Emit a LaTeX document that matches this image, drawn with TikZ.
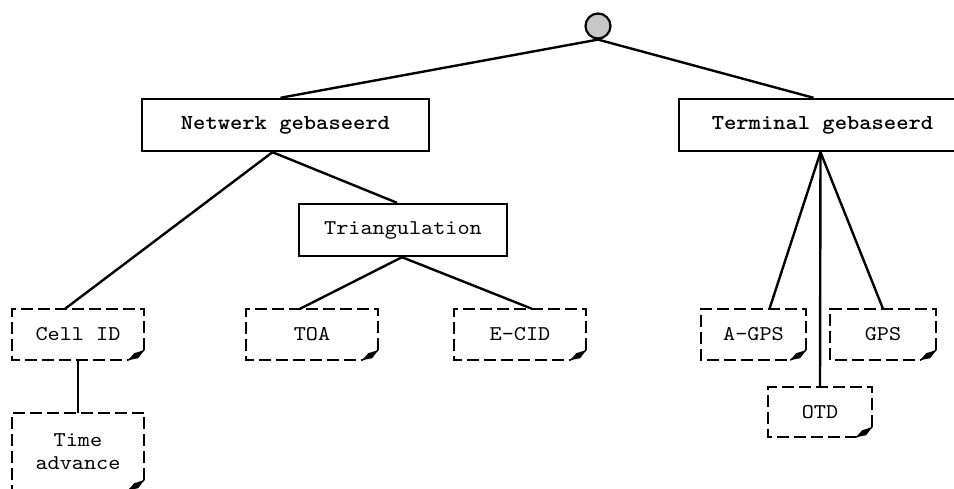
\documentclass[tikz,border=0pt]{standalone}
\usepackage{fontspec}
\newfontfamily\boxfont[FakeStretch=1.1, BoldFont=lmmonolt10-bold.otf]{lmmono10-regular.otf}
\usetikzlibrary{calc}
\tikzset{
  x=1pt, y=1pt,
  conn/.style={line width=2.4pt},
  solidbox/.style={draw, line width=2.4pt, inner sep=0pt, minimum height=52pt,
    font=\fontsize{21.3}{23}\selectfont\boxfont\bfseries},
  notebox/.style={draw=none, inner sep=0pt, minimum height=51pt, align=center,
    font=\fontsize{21}{23}\selectfont\boxfont},
  noteline/.style={line width=2.4pt, dash pattern=on 12pt off 5pt},
  rootdot/.style={circle, draw, line width=2.2pt, fill=black!22, minimum size=25pt, inner sep=0pt}
}
% dashed note outline with a folded bottom-right corner
\newcommand{\foldnote}[1]{%
  \draw[noteline] ($(#1.south east)+(0,10)$) -- (#1.north east) -- (#1.north west)
    -- (#1.south west) -- ($(#1.south east)+(-16,0)$);
  \fill ($(#1.south east)+(-16,0)$) -- ($(#1.south east)+(-10,7)$)
    -- ($(#1.south east)+(0,10)$) -- ($(#1.south east)+(-6,2)$) -- cycle;
  \draw[line width=1.4pt] ($(#1.south east)+(-16,0)$) -- ($(#1.south east)+(0,10)$);
}
\begin{document}
\begin{tikzpicture}
\useasboundingbox (0,0) rectangle (954,489);

\node[rootdot] (root) at (598,463) {};

\node[solidbox, minimum width=287pt] (net)  at (285.5,364) {Netwerk gebaseerd};
\node[solidbox, minimum width=287pt] (term) at (822.5,364) {Terminal gebaseerd};
\node[solidbox, minimum width=208pt, font=\fontsize{21}{23}\selectfont\boxfont] (tri) at (403,259) {Triangulation};

\node[notebox, minimum width=132pt] (cell) at (78,154.5)  {Cell ID};
\node[notebox, minimum width=132pt] (toa)  at (312,154.5) {TOA};
\node[notebox, minimum width=132pt] (ecid) at (520,154.5) {E-CID};
\node[notebox, minimum width=105pt] (agps) at (753.5,154.5) {A-GPS};
\node[notebox, minimum width=106pt] (gps)  at (883,154.5) {GPS};
\node[notebox, minimum width=104pt, minimum height=50pt] (otd) at (820,77) {OTD};
\node[notebox, minimum width=132pt, minimum height=77pt] (time) at (78,37.5) {Time\\advance};

\foreach \n in {cell,toa,ecid,agps,gps,otd,time} {\foldnote{\n}}

% connectors
\draw[conn] (root.south) -- ([xshift=-5pt]net.north);
\draw[conn] (root.south) -- ([xshift=-9pt]term.north);
\draw[conn] ([xshift=-13pt]net.south) -- ([xshift=-13pt]cell.north);
\draw[conn] ([xshift=-13pt]net.south) -- ([xshift=-6pt]tri.north);
\draw[conn] ([xshift=-1pt]tri.south) -- ([xshift=-12pt]toa.north);
\draw[conn] ([xshift=-1pt]tri.south) -- ([xshift=12pt]ecid.north);
\draw[conn] ([xshift=-2pt]term.south) -- ([xshift=16pt]agps.north);
\draw[conn] ([xshift=-2pt]term.south) -- (otd.north);
\draw[conn] ([xshift=-2pt]term.south) -- (gps.north);
\draw[conn] (cell.south) -- (time.north);
\end{tikzpicture}
\end{document}
